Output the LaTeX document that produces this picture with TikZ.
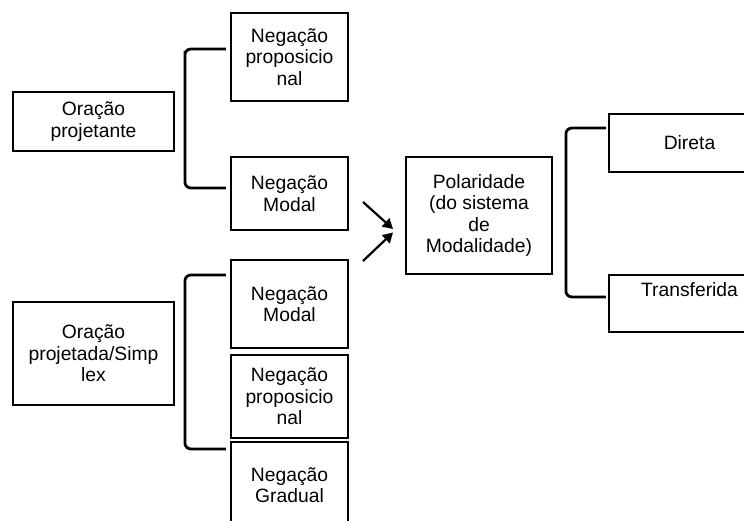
\documentclass[tikz,border=0pt]{standalone}
\usepackage{fontspec}
\setmainfont{Liberation Sans}
\usetikzlibrary{calc,arrows.meta}
\begin{document}
\begin{tikzpicture}[x=1pt,y=-1pt,
  box/.style={draw=black,line width=2.2pt,rectangle,inner sep=0pt,align=center,
    font=\fontsize{19.3}{21.5}\selectfont},
  brace/.style={draw=black,line width=2.8pt,rounded corners=6pt},
  arr/.style={draw=black,line width=2.2pt,-{Triangle[length=10pt,width=11pt]}}]
\clip (0,0) rectangle (744,521);
\fill[white] (0,0) rectangle (744,521);
% left column
\node[box,minimum width=161pt,minimum height=59pt] (op) at (93.5,121.5) {Oração\\projetante};
\node[box,minimum width=161pt,minimum height=103pt] (opj) at (93.5,353.5) {Oração\\projetada/Simp\\lex};
% negation types
\node[box,minimum width=117pt,minimum height=88pt] (npt) at (289.5,57) {Negação\\proposicio\\nal};
\node[box,minimum width=117pt,minimum height=73pt] (nmt) at (289.5,193.5) {Negação\\Modal};
\node[box,minimum width=117pt,minimum height=88pt] (nmb) at (289.5,304) {Negação\\Modal};
\node[box,minimum width=117pt,minimum height=83pt] (npb) at (289.5,396.5) {Negação\\proposicio\\nal};
\node[box,minimum width=117pt,minimum height=86pt] (ngb) at (289.5,485) {Negação\\Gradual};
% polarity
\node[box,minimum width=146pt,minimum height=117pt] (pol) at (479,215.5) {Polaridade\\(do sistema\\de\\Modalidade)};
\node[box,minimum width=161pt,minimum height=58pt] (dir) at (689.5,143) {Direta};
\node[box,minimum width=161pt,minimum height=57pt] (tra) at (689.5,303.5) {Transferida\\\strut};
% brackets
\draw[brace] ($(npt.west)+(-4,-8)$) -| ($(npt.west)+(-45,0)$) |- ($(nmt.west)+(-4,-5.5)$);
\draw[brace] ($(nmb.west)+(-4,-29)$) -| ($(nmb.west)+(-45,0)$) |- ($(ngb.west)+(-4,-36)$);
\draw[brace] ($(dir.west)+(-2,-15)$) -| ($(dir.west)+(-42,0)$) |- ($(tra.west)+(-2,-6.5)$);
% arrows into polarity
\coordinate (t1) at (393,229);
\coordinate (t2) at (393,232.5);
\coordinate (s1) at (363,202);
\coordinate (s2) at (363,261);
\draw[arr] (s1) -- (t1);
\draw[arr] (s2) -- (t2);
\end{tikzpicture}
\end{document}
